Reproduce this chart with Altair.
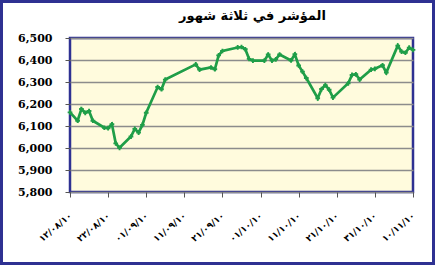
import altair as alt
import pandas as pd

title_text = "المؤشر في ثلاثة شهور"

dates = [
    "2010-08-12", "2010-08-14", "2010-08-15", "2010-08-16", "2010-08-17", "2010-08-18",
    "2010-08-21", "2010-08-22", "2010-08-23", "2010-08-24", "2010-08-25",
    "2010-08-28", "2010-08-29", "2010-08-30", "2010-08-31", "2010-09-01",
    "2010-09-04", "2010-09-05", "2010-09-06",
    "2010-09-14", "2010-09-15",
    "2010-09-18", "2010-09-19", "2010-09-20", "2010-09-21",
    "2010-09-25", "2010-09-26", "2010-09-27", "2010-09-28", "2010-09-29",
    "2010-10-02", "2010-10-03", "2010-10-04", "2010-10-05", "2010-10-06",
    "2010-10-09", "2010-10-10", "2010-10-11", "2010-10-12", "2010-10-13",
    "2010-10-16", "2010-10-17", "2010-10-18", "2010-10-19", "2010-10-20",
    "2010-10-24", "2010-10-25", "2010-10-26", "2010-10-27",
    "2010-10-30", "2010-10-31", "2010-11-02", "2010-11-03",
    "2010-11-06", "2010-11-07", "2010-11-08", "2010-11-09", "2010-11-10",
]
values = [
    6162, 6124, 6177, 6160, 6168, 6124,
    6092, 6090, 6108, 6021, 6001,
    6052, 6087, 6070, 6105, 6160,
    6277, 6267, 6311,
    6380, 6356,
    6366, 6358, 6421, 6441,
    6457, 6459, 6449, 6405, 6397,
    6397, 6425, 6397, 6403, 6425,
    6398, 6426, 6375, 6347, 6318,
    6226, 6268, 6286, 6265, 6229,
    6294, 6332, 6335, 6311,
    6356, 6360, 6376, 6343,
    6465, 6438, 6433, 6456, 6446,
]

tick_dates = [
    "2010-08-12", "2010-08-22", "2010-09-01", "2010-09-11", "2010-09-21",
    "2010-10-01", "2010-10-11", "2010-10-21", "2010-10-31", "2010-11-10",
]
tick_labels = [
    "١٢/٠٨/١٠", "٢٢/٠٨/١٠", "٠١/٠٩/١٠", "١١/٠٩/١٠", "٢١/٠٩/١٠",
    "٠١/١٠/١٠", "١١/١٠/١٠", "٢١/١٠/١٠", "٣١/١٠/١٠", "١٠/١١/١٠",
]
y_ticks = [5800, 5900, 6000, 6100, 6200, 6300, 6400, 6500]

df = pd.DataFrame({"date": dates, "value": values})


def dt(s):
    return alt.DateTime(year=int(s[:4]), month=int(s[5:7]), date=int(s[8:10]), utc=True)


label_expr = (
    "[" + ",".join("'" + t + "'" for t in tick_labels) + "]"
    "[round((datum.value - utc(2010, 7, 12)) / 864000000)]"
)

x_enc = alt.X(
    "date:T",
    scale=alt.Scale(type="utc", domain=[dt(tick_dates[0]), dt(tick_dates[-1])]),
    axis=alt.Axis(
        values=[dt(s) for s in tick_dates],
        labelExpr=label_expr,
        title=None,
        labelAngle=-40,
        labelAlign="right",
        labelBaseline="middle",
        labelPadding=17,
        labelOverlap=False,
        labelBound=False,
        tickSize=5,
        grid=False,
        domain=False,
        labelFont="DejaVu Sans",
        labelFontWeight="bold",
        labelFontSize=9,
        labelColor="black",
        tickColor="#555555",
    ),
)
y_enc = alt.Y(
    "value:Q",
    scale=alt.Scale(domain=[y_ticks[0], y_ticks[-1]], nice=False, zero=False),
    axis=alt.Axis(
        values=y_ticks,
        format=",d",
        title=None,
        grid=True,
        gridColor="#8C8C8C",
        gridWidth=1.5,
        domain=False,
        tickSize=5,
        tickColor="#555555",
        labelPadding=13,
        labelOverlap=False,
        labelFont="DejaVu Serif",
        labelFontWeight="bold",
        labelFontSize=11,
        labelColor="black",
    ),
)

green = "#1F9E48"

frame = alt.Chart(df).mark_rect(fill=None, stroke="#2E3192", strokeWidth=3).encode(
    x=alt.value(-68.5), x2=alt.value(363.5), y=alt.value(-36.5), y2=alt.value(225.5)
)

base = alt.Chart(df).encode(x=x_enc, y=y_enc)
line = base.mark_line(color=green, strokeWidth=2.7)
points = base.mark_point(shape="cross", filled=True, color=green, size=22, opacity=1)

chart = (
    alt.layer(frame, line, points)
    .properties(
        width=343,
        height=154,
        background="white",
        title=alt.TitleParams(
            text=title_text,
            font="DejaVu Sans",
            fontSize=13,
            fontWeight="bold",
            anchor="middle",
            frame="group",
            dx=11,
            dy=37,
            offset=14,
            color="black",
        ),
        autosize=alt.AutoSizeParams(type="none"),
        padding={"left": 70, "top": 38, "right": 22, "bottom": 73},
    )
    .configure_view(fill="#FFFBDD", stroke="#2E3192", strokeWidth=2.5)
)

chart.save("out.html", embed_options={"renderer": "svg", "actions": False})
